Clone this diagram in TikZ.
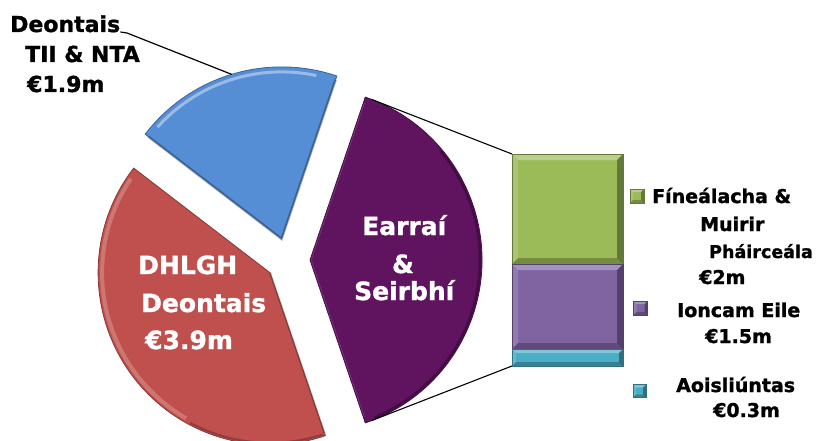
\documentclass[tikz,border=0pt]{standalone}
\usepackage{fontspec}
\setmainfont{DejaVu Sans}[BoldFeatures={FakeBold=1.3}]
\usetikzlibrary{calc}
\definecolor{sliceblue}{HTML}{558ED5}
\definecolor{slicered}{HTML}{C0504D}
\definecolor{slicepurple}{HTML}{601460}
\definecolor{bargreen}{HTML}{9BBB59}
\definecolor{barpurple}{HTML}{8064A2}
\definecolor{barcyan}{HTML}{4BACC6}
\begin{document}
\begin{tikzpicture}[x=1pt,y=1pt,
  lab/.style={anchor=base west, inner sep=0pt, font=\bfseries\fontsize{22}{22}\selectfont},
  inlab/.style={anchor=base west, inner sep=0pt, text=white, font=\bfseries\fontsize{25}{25}\selectfont},
  leglab/.style={anchor=base west, inner sep=0pt, font=\bfseries\fontsize{19}{19}\selectfont},
  bevelbox/.style n args={2}{fill=#1, draw=#1!65!black, line width=0.5pt, inner sep=0pt, outer sep=0pt,
    path picture={
      \coordinate (pnw) at (path picture bounding box.north west);
      \coordinate (pse) at (path picture bounding box.south east);
      \coordinate (pne) at (path picture bounding box.north east);
      \coordinate (psw) at (path picture bounding box.south west);
      \fill[white,opacity=0.3] (pnw) -- (pne) -- ($(pne)+(-#2,-#2)$) -- ($(pnw)+(#2,-#2)$) -- cycle;
      \fill[white,opacity=0.15] (pnw) -- (psw) -- ($(psw)+(#2,#2)$) -- ($(pnw)+(#2,-#2)$) -- cycle;
      \fill[black,opacity=0.35] (pne) -- (pse) -- ($(pse)+(-#2,#2)$) -- ($(pne)+(-#2,-#2)$) -- cycle;
      \fill[black,opacity=0.25] (psw) -- (pse) -- ($(pse)+(-#2,#2)$) -- ($(psw)+(#2,#2)$) -- cycle;
    }},
  series/.style={draw=black, line width=1.1pt}
]
\useasboundingbox (0,0) rectangle (816,-441);

% slice apexes
\coordinate (rA) at (270.1,-272.8);
\coordinate (bA) at (281.6,-238.9);
\coordinate (pA) at (310,-260);

% red slice
\fill[slicered] (rA) -- ++(142.5:172) arc[start angle=142.5, end angle=288.75, radius=172] -- cycle;
\draw[white,opacity=0.22,line width=4pt] ($(rA)+(146:168)$) arc[start angle=146, end angle=240, radius=168];
\draw[black,opacity=0.25,line width=2pt] ($(rA)+(242:170)$) arc[start angle=242, end angle=288, radius=170];
\draw[black,opacity=0.2,line width=2pt] ($(rA)+(288.75:170)$) -- (rA);
\draw[slicered!70!black,line width=0.8pt] (rA) -- ++(142.5:172) arc[start angle=142.5, end angle=288.75, radius=172] -- cycle;

% blue slice
\fill[sliceblue] (bA) -- ++(71.25:172) arc[start angle=71.25, end angle=142.5, radius=172] -- cycle;
\draw[white,opacity=0.4,line width=3pt] ($(bA)+(78:167)$) arc[start angle=78, end angle=138, radius=167];
\draw[black,opacity=0.3,line width=2.5pt] ($(bA)+(142.5:168)$) -- (bA) -- ($(bA)+(71.25:168)$);
\draw[sliceblue!70!black,line width=0.8pt] (bA) -- ++(71.25:172) arc[start angle=71.25, end angle=142.5, radius=172] -- cycle;

% purple slice
\fill[slicepurple] (pA) -- ++(-71.25:172) arc[start angle=-71.25, end angle=71.25, radius=172] -- cycle;
\draw[white,opacity=0.12,line width=3pt] ($(pA)+(71.25:166)$) -- (pA) -- ($(pA)+(-71.25:166)$);
\draw[black,opacity=0.3,line width=2.5pt] ($(pA)+(-68:170)$) arc[start angle=-68, end angle=40, radius=170];
\draw[slicepurple!70!black,line width=0.8pt] (pA) -- ++(-71.25:172) arc[start angle=-71.25, end angle=71.25, radius=172] -- cycle;

\coordinate (ptop) at ($(pA)+(69:172)$);
\coordinate (pbot) at ($(pA)+(-69:172)$);
\coordinate (bmid) at ($(bA)+(106.9:172)$);

% bar
\node[bevelbox={bargreen}{6}, minimum width=111, minimum height=110] (green) at (567.5,-209) {};
\node[bevelbox={barpurple}{6}, minimum width=111, minimum height=85] (purplebar) at (567.5,-306.5) {};
\node[bevelbox={barcyan}{4}, minimum width=111, minimum height=17] (cyan) at (567.5,-357.5) {};

% series lines
\draw[series] (ptop) -- (green.north west);
\draw[series] (pbot) -- (cyan.south west);

% blue label with leader
\node[lab] (dt1) at (10,-32) {Deontais};
\node[lab] (dt2) at (25,-62) {TII \& NTA};
\node[lab] (dt3) at (27,-92) {€1.9m};
\coordinate (knee) at (127,-33);
\draw[black,line width=1.2pt] (dt1.base east) -- (knee) -- (bmid);

% red label
\node[inlab] (rl1) at (138,-274) {DHLGH};
\node[inlab] (rl2) at (141,-312) {Deontais};
\node[inlab] (rl3) at (145,-349) {€3.9m};

% purple label
\node[inlab] (pl1) at (362,-235) {Earraí};
\node[inlab, anchor=base] (pl2) at (403,-273) {\&};
\node[inlab] (pl3) at (354,-300) {Seirbhí};

% legend
\node[bevelbox={bargreen}{3}, minimum size=14] (m1) at (637,-196) {};
\node[leglab] (g1) at (652,-203) {Fíneálacha \&};
\node[leglab] (g2) at (700,-231) {Muirir};
\node[leglab, font=\bfseries\fontsize{17.5}{17.5}\selectfont] (g3) at (709,-258) {Pháirceála};
\node[leglab] (g4) at (699,-284) {€2m};

\node[bevelbox={barpurple}{3}, minimum size=14] (m2) at (640.5,-308) {};
\node[leglab] (i1) at (677,-317) {Ioncam Eile};
\node[leglab] (i2) at (705,-343) {€1.5m};

\node[bevelbox={barcyan}{3}, minimum size=13] (m3) at (639.5,-391) {};
\node[leglab] (a1) at (676,-392) {Aoisliúntas};
\node[leglab] (a2) at (713,-417) {€0.3m};
\end{tikzpicture}
\end{document}
